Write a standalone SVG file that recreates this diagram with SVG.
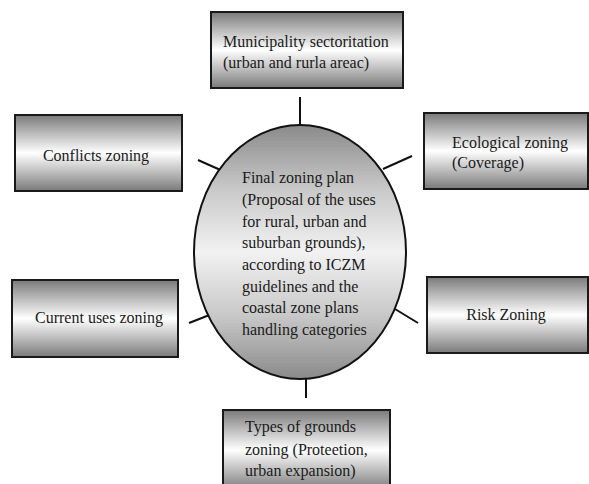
<svg xmlns="http://www.w3.org/2000/svg" width="589" height="484" viewBox="0 0 589 484">
<defs>
<linearGradient id="boxg" x1="0" y1="0" x2="0" y2="1">
<stop offset="0" stop-color="#7a7a7a"/>
<stop offset="0.2" stop-color="#b0b0b0"/>
<stop offset="0.5" stop-color="#ffffff"/>
<stop offset="0.8" stop-color="#b0b0b0"/>
<stop offset="1" stop-color="#7a7a7a"/>
</linearGradient>
<linearGradient id="ellg" x1="0" y1="0" x2="0" y2="1">
<stop offset="0" stop-color="#8a8a8a"/>
<stop offset="0.25" stop-color="#c8c8c8"/>
<stop offset="0.5" stop-color="#f2f2f2"/>
<stop offset="0.75" stop-color="#c8c8c8"/>
<stop offset="1" stop-color="#8a8a8a"/>
</linearGradient>
</defs>
<style>
.box{fill:url(#boxg);stroke:#1a1a1a;stroke-width:2}
.ell{fill:url(#ellg);stroke:#111;stroke-width:2}
text{font-family:"Liberation Serif","Times New Roman",serif;font-size:16px;fill:#1a1a1a}
.c{stroke:#111;stroke-width:2;fill:none}
</style>
<rect width="589" height="484" fill="#fff"/>
<g id="connectors">
<line class="c" x1="300" y1="97" x2="300" y2="125"/>
<line class="c" x1="198" y1="160" x2="225" y2="172"/>
<line class="c" x1="383" y1="169" x2="412" y2="156"/>
<line class="c" x1="189" y1="323" x2="212" y2="314"/>
<line class="c" x1="395" y1="309" x2="418" y2="323"/>
<line class="c" x1="306" y1="379" x2="306" y2="398"/>
</g>
<g id="center">
<ellipse class="ell" cx="300" cy="252" rx="106" ry="127"/>
<text x="242" y="183">Final zoning plan</text>
<text x="242" y="205">(Proposal of the uses</text>
<text x="242" y="227">for rural, urban and</text>
<text x="242" y="248">suburban grounds),</text>
<text x="242" y="270">according to ICZM</text>
<text x="242" y="292">guidelines and the</text>
<text x="242" y="313">coastal zone plans</text>
<text x="242" y="335">handling categories</text>
</g>
<g id="municipality">
<rect class="box" x="211" y="12" width="192" height="76"/>
<text x="223" y="47">Municipality sectoritation</text>
<text x="223" y="68">(urban and rurla areac)</text>
</g>
<g id="conflicts">
<rect class="box" x="15" y="115" width="167" height="76"/>
<text x="96" y="161" text-anchor="middle">Conflicts zoning</text>
</g>
<g id="ecological">
<rect class="box" x="424" y="113" width="164" height="76"/>
<text x="452" y="148">Ecological zoning</text>
<text x="452" y="168">(Coverage)</text>
</g>
<g id="current">
<rect class="box" x="12" y="280" width="166" height="77"/>
<text x="99" y="323" text-anchor="middle">Current uses zoning</text>
</g>
<g id="risk">
<rect class="box" x="427" y="277" width="161" height="76"/>
<text x="506" y="320" text-anchor="middle">Risk Zoning</text>
</g>
<g id="types">
<rect class="box" x="223" y="410" width="167" height="80"/>
<text x="245" y="432">Types of grounds</text>
<text x="245" y="455">zoning (Proteetion,</text>
<text x="245" y="476">urban expansion)</text>
</g>
</svg>
